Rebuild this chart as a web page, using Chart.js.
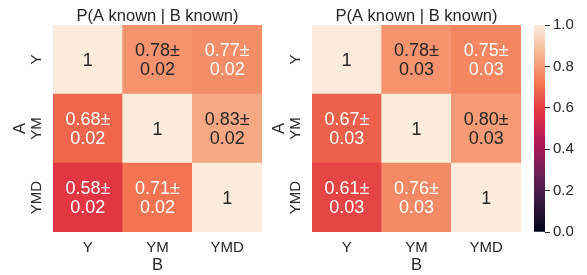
<!DOCTYPE html>
<html><head><meta charset="utf-8">
<script src="https://cdn.jsdelivr.net/npm/chart.js@4/dist/chart.umd.min.js"></script>
<style>
html,body{margin:0;padding:0;background:#fff;width:587px;height:275px;overflow:hidden}
.c{position:absolute;top:0}
canvas{display:block}
</style></head><body>
<div class="c" style="left:0px"><canvas id="h1" width="266" height="275"></canvas></div>
<div class="c" style="left:259px"><canvas id="h2" width="266" height="275"></canvas></div>
<div class="c" style="left:520px"><canvas id="cb" width="67" height="275"></canvas></div>
<script>
// ---- data ----
const rowsA = ['Y', 'YM', 'YMD'];
const colsB = ['Y', 'YM', 'YMD'];
const leftValues  = [[1, 0.78, 0.77], [0.68, 1, 0.83], [0.58, 0.71, 1]];
const leftErrors  = [[null, 0.02, 0.02], [0.02, null, 0.02], [0.02, 0.02, null]];
const rightValues = [[1, 0.78, 0.75], [0.67, 1, 0.80], [0.61, 0.76, 1]];
const rightErrors = [[null, 0.03, 0.03], [0.03, null, 0.03], [0.03, 0.03, null]];
const colorbarTicks = [0, 0.2, 0.4, 0.6, 0.8, 1.0];
const panelTitle = 'P(A known | B known)';
const axisA = 'A';
const axisB = 'B';

// ---- rocket colormap ----
const rocketStops = [
  [0.0, [3, 5, 26]],
  [1/7, [53, 25, 62]],
  [2/7, [112, 31, 87]],
  [3/7, [173, 23, 89]],
  [4/7, [225, 51, 66]],
  [5/7, [243, 118, 81]],
  [6/7, [246, 180, 143]],
  [1.0, [250, 235, 221]]
];
function rocketRGB(v) {
  v = Math.max(0, Math.min(1, v));
  for (let i = 1; i < rocketStops.length; i++) {
    const [p1, c1] = rocketStops[i];
    const [p0, c0] = rocketStops[i - 1];
    if (v <= p1) {
      const t = (v - p0) / (p1 - p0);
      return c0.map((c, k) => c + (c1[k] - c) * t);
    }
  }
  return rocketStops[rocketStops.length - 1][1];
}
function rocket(v) {
  const c = rocketRGB(v).map(Math.round);
  return `rgb(${c[0]},${c[1]},${c[2]})`;
}
function relLum(rgb) {
  const lin = rgb.map(c => { c /= 255; return c <= 0.03928 ? c / 12.92 : Math.pow((c + 0.055) / 1.055, 2.4); });
  return 0.2126 * lin[0] + 0.7152 * lin[1] + 0.0722 * lin[2];
}
function annotColor(v) { return relLum(rocketRGB(v)) > 0.408 ? '#262626' : '#ffffff'; }

const FONT = '"Liberation Sans", Arial, Helvetica, sans-serif';
const DARK = '#262626';

const heatText = {
  id: 'heatText',
  afterDatasetsDraw(chart, args, opts) {
    const ctx = chart.ctx, a = chart.chartArea;
    ctx.save();
    // title
    ctx.fillStyle = DARK;
    ctx.textAlign = 'center';
    ctx.textBaseline = 'alphabetic';
    ctx.font = `16.5px ${FONT}`;
    ctx.fillText(opts.title, (a.left + a.right) / 2, 21);
    // y tick labels (rotated)
    const ys = chart.scales.y;
    ctx.font = `15px ${FONT}`;
    rowsA.forEach((lab, i) => {
      const py = ys.getPixelForValue(rowsA.length - i - 0.5);
      ctx.save();
      ctx.translate(40.5, py);
      ctx.rotate(-Math.PI / 2);
      ctx.fillText(lab, 0, 0);
      ctx.restore();
    });
    // annotations
    ctx.font = `18px ${FONT}`;
    const capHalf = 18 * 0.716 / 2;
    chart.data.datasets.forEach((ds, d) => {
      const r = rowsA.length - 1 - d;
      const meta = chart.getDatasetMeta(d);
      meta.data.forEach((el, j) => {
        const v = opts.values[r][j];
        const e = opts.errors[r][j];
        const cx = el.x, cy = (el.y + el.base) / 2;
        ctx.fillStyle = annotColor(v);
        if (e === null) {
          ctx.fillText(String(v), cx, cy + capHalf);
        } else {
          ctx.fillText(v.toFixed(2) + '±', cx, cy - 9.5 + capHalf);
          ctx.fillText(e.toFixed(2), cx, cy + 9.5 + capHalf);
        }
      });
    });
    ctx.restore();
  }
};

function heatmap(id, values, errors) {
  const datasets = [];
  for (let r = rowsA.length - 1; r >= 0; r--) {
    datasets.push({
      label: rowsA[r],
      data: colsB.map(() => 1),
      backgroundColor: values[r].map(rocket),
      borderWidth: 0,
      barPercentage: 1,
      categoryPercentage: 1
    });
  }
  return new Chart(document.getElementById(id), {
    type: 'bar',
    data: { labels: colsB, datasets },
    options: {
      responsive: false,
      animation: false,
      events: [],
      layout: { padding: { left: 0, top: 25, right: 4, bottom: 0 } },
      plugins: {
        legend: { display: false },
        tooltip: { enabled: false },
        heatText: { values, errors, title: panelTitle }
      },
      scales: {
        x: {
          stacked: true,
          grid: { display: false, drawTicks: false },
          border: { display: false },
          ticks: { color: DARK, font: { family: FONT, size: 15 }, padding: 7 },
          title: { display: true, text: axisB, color: DARK, font: { family: FONT, size: 16.5 }, padding: { top: 0, bottom: 0 } },
          afterFit(s) { s.height = 43; }
        },
        y: {
          stacked: true,
          min: 0, max: rowsA.length,
          grid: { display: false, drawTicks: false },
          border: { display: false },
          ticks: { display: false },
          title: { display: true, text: axisA, color: DARK, font: { family: FONT, size: 16.5 }, padding: { top: 11, bottom: 0 } },
          afterFit(s) { s.width = 53; }
        }
      }
    },
    plugins: [heatText]
  });
}

heatmap('h1', leftValues, leftErrors);
heatmap('h2', rightValues, rightErrors);

new Chart(document.getElementById('cb'), {
  type: 'bar',
  data: {
    labels: [''],
    datasets: [{
      data: [[colorbarTicks[0], colorbarTicks[colorbarTicks.length - 1]]],
      borderWidth: 0,
      barPercentage: 1,
      categoryPercentage: 1,
      backgroundColor(ctx) {
        const a = ctx.chart.chartArea;
        if (!a) return rocket(0.5);
        const g = ctx.chart.ctx.createLinearGradient(0, a.bottom, 0, a.top);
        for (let i = 0; i <= 64; i++) g.addColorStop(i / 64, rocket(i / 64));
        return g;
      }
    }]
  },
  options: {
    responsive: false,
    animation: false,
    events: [],
    layout: { padding: { left: 14, top: 25, right: 0, bottom: 43 } },
    plugins: { legend: { display: false }, tooltip: { enabled: false } },
    scales: {
      x: { display: false },
      y: {
        position: 'right',
        min: 0, max: 1,
        afterBuildTicks(s) { s.ticks = colorbarTicks.map(v => ({ value: v })); },
        ticks: { color: DARK, font: { family: FONT, size: 15 }, padding: 3, callback: v => Number(v).toFixed(1) },
        grid: { drawOnChartArea: false, drawTicks: true, tickLength: 5, color: DARK, lineWidth: 1 },
        border: { display: false },
        afterFit(s) { s.width = 42; }
      }
    }
  }
});
</script>
</body></html>
